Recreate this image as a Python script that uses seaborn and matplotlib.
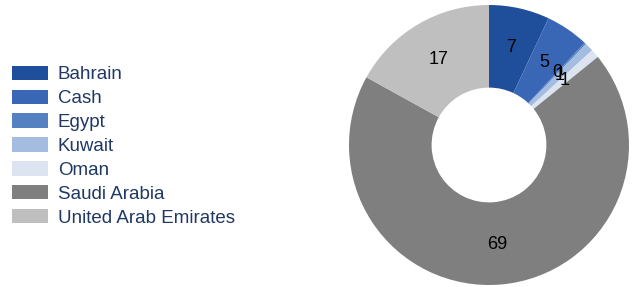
import matplotlib
matplotlib.use("Agg")
import matplotlib.pyplot as plt
import seaborn as sns

categories = ["Bahrain", "Cash", "Egypt", "Kuwait", "Oman", "Saudi Arabia", "United Arab Emirates"]
values = [7, 5, 0.2, 1, 1, 69, 17]
labels = ["7", "5", "0", "1", "1", "69", "17"]
colours = ["#1f4e9a", "#3a67b5", "#5580c2", "#a3bce0", "#dce4f2", "#7f7f7f", "#bfbfbf"]

sns.set_theme(style="white")
plt.rcParams['font.family'] = ['Liberation Sans', 'DejaVu Sans']

fig = plt.figure(figsize=(6.33, 2.87), dpi=100)
ax = fig.add_axes([349 / 633, 2 / 287, 280 / 633, 280 / 287])

wedges, texts = ax.pie(values, labels=labels, colors=sns.color_palette(colours),
                       startangle=90, counterclock=False, labeldistance=0.71,
                       wedgeprops=dict(width=0.59, linewidth=0),
                       textprops=dict(fontsize=13, color="black", ha="center", va="center"))
ax.set_xlim(-1, 1)
ax.set_ylim(-1, 1)
ax.set_aspect("equal")

fig.legend(wedges, categories, loc="upper left", bbox_to_anchor=(-0.007, 0.83),
           frameon=False, fontsize=13.5, handlelength=1.92, handleheight=0.8,
           labelspacing=0.33, handletextpad=0.5, labelcolor="#1f3864")

fig.savefig("out.png", dpi=100)
